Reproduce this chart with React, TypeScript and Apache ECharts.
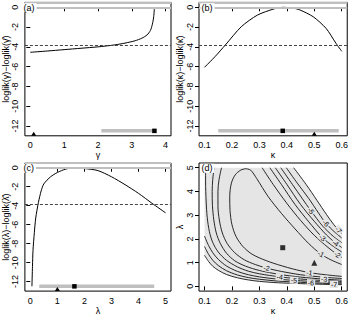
import React, { useEffect, useRef } from "react";
import * as echarts from "echarts";

// ---- (a) profile log-likelihood in gamma ----
const gammaGrid = [0, 0.5, 1, 1.5, 2, 2.5, 2.8, 3.1, 3.3, 3.45, 3.55, 3.61, 3.65, 3.67];
const gammaProfile = [-4.55, -4.42, -4.28, -4.14, -4.0, -3.8, -3.62, -3.38, -3.12, -2.8, -2.35, -1.7, -0.9, 0];
const gammaInterval = [2.1, 3.67];
const gammaHat = 3.67;
const gammaTrue = 0.1;

// ---- (b) profile log-likelihood in kappa ----
const kappaGrid = [0.1, 0.138, 0.176, 0.234, 0.293, 0.352, 0.385, 0.42, 0.448, 0.496, 0.543, 0.579, 0.6];
const kappaProfile = [-6.07, -5.0, -3.81, -1.96, -0.78, -0.17, 0, -0.06, -0.27, -0.95, -2.13, -3.64, -4.45];
const kappaInterval = [0.15, 0.589];
const kappaHat = 0.385;
const kappaTrue = 0.5;

// ---- (c) profile log-likelihood in lambda ----
const lambdaGrid = [0.06, 0.08, 0.1, 0.15, 0.2, 0.3, 0.4, 0.5, 0.75, 1.0, 1.3, 1.63, 2.0, 2.5, 3.0, 3.5, 4.0, 4.5, 5.0];
const lambdaProfile = [-12.5, -10.4, -8.7, -6.8, -5.3, -3.65, -2.45, -1.7, -0.95, -0.5, -0.15, 0, -0.08, -0.3, -0.95, -1.78, -2.7, -3.75, -4.75];
const lambdaInterval = [0.33, 4.58];
const lambdaHat = 1.63;
const lambdaTrue = 1.0;

const cutoff = -3.84;
const barLevel = -12.5;

// ---- (d) joint log-likelihood contours in (kappa, lambda) ----
const contourLevels = [-1, -2, -3, -4, -5, -6, -7];

// branches below/left of the ridge, level -1 .. -7
const lowerBranches: number[][][] = [
  [[0.25, 4.96], [0.232, 4.9], [0.212, 4.7], [0.198, 4.35], [0.192, 3.8], [0.193, 3.2], [0.2, 2.6], [0.215, 2.1], [0.24, 1.68], [0.27, 1.38], [0.3, 1.2], [0.35, 0.98], [0.42, 0.74], [0.482, 0.58], [0.54, 0.49], [0.6, 0.42]],
  [[0.162, 5.0], [0.153, 4.5], [0.149, 4.0], [0.149, 3.4], [0.154, 2.8], [0.165, 2.25], [0.183, 1.8], [0.21, 1.42], [0.245, 1.12], [0.285, 0.92], [0.326, 0.77], [0.38, 0.63], [0.45, 0.49], [0.53, 0.39], [0.6, 0.33]],
  [[0.135, 5.0], [0.13, 4.5], [0.128, 4.0], [0.129, 3.4], [0.134, 2.8], [0.143, 2.25], [0.158, 1.8], [0.18, 1.4], [0.21, 1.08], [0.25, 0.85], [0.3, 0.67], [0.37, 0.51], [0.45, 0.39], [0.53, 0.31], [0.6, 0.26]],
  [[0.104, 5.0], [0.104, 4.4], [0.106, 3.6], [0.11, 2.9], [0.118, 2.3], [0.13, 1.85], [0.15, 1.45], [0.18, 1.1], [0.22, 0.82], [0.26, 0.64], [0.3, 0.53], [0.374, 0.4], [0.45, 0.31], [0.53, 0.245], [0.6, 0.2]],
  [[0.1, 2.12], [0.115, 1.72], [0.13, 1.42], [0.15, 1.14], [0.18, 0.86], [0.22, 0.63], [0.26, 0.49], [0.3, 0.4], [0.37, 0.3], [0.45, 0.235], [0.52, 0.19], [0.6, 0.15]],
  [[0.1, 1.68], [0.115, 1.35], [0.13, 1.1], [0.15, 0.88], [0.18, 0.66], [0.22, 0.48], [0.26, 0.37], [0.3, 0.3], [0.37, 0.22], [0.45, 0.17], [0.52, 0.135], [0.6, 0.105]],
  [[0.1, 1.31], [0.115, 1.05], [0.13, 0.85], [0.15, 0.68], [0.18, 0.5], [0.22, 0.36], [0.26, 0.27], [0.3, 0.21], [0.37, 0.15], [0.45, 0.115], [0.52, 0.09], [0.6, 0.07]],
];

// branches above/right of the ridge, level -1 .. -7
const upperBranches: number[][][] = [
  [[0.25, 4.96], [0.268, 4.9], [0.29, 4.55], [0.331, 3.8], [0.38, 3.08], [0.43, 2.42], [0.48, 1.8], [0.524, 1.36], [0.56, 1.12], [0.6, 0.92]],
  [[0.31, 5.0], [0.35, 4.3], [0.4, 3.5], [0.45, 2.78], [0.5, 2.15], [0.55, 1.64], [0.584, 1.34], [0.6, 1.22]],
  [[0.338, 5.0], [0.38, 4.3], [0.43, 3.45], [0.48, 2.72], [0.53, 2.05], [0.57, 1.68], [0.6, 1.45]],
  [[0.358, 5.0], [0.4, 4.3], [0.45, 3.45], [0.5, 2.74], [0.545, 2.16], [0.578, 1.82], [0.6, 1.64]],
  [[0.378, 5.0], [0.42, 4.3], [0.455, 3.72], [0.488, 3.18], [0.53, 2.55], [0.57, 2.1], [0.6, 1.84]],
  [[0.398, 5.0], [0.44, 4.32], [0.48, 3.7], [0.515, 3.1], [0.542, 2.66], [0.575, 2.28], [0.6, 2.04]],
  [[0.425, 5.0], [0.47, 4.3], [0.51, 3.62], [0.545, 3.02], [0.57, 2.62], [0.59, 2.35], [0.6, 2.24]],
];

// kappa at which each branch carries its level label
const lowerLabelKappa = [0.482, 0.326, 0.536, 0.374, 0.426, 0.488, 0.572];
const upperLabelKappa = [0.524, 0.584, 0.53, 0.578, 0.488, 0.542, 0.588];

const kappaHat2 = 0.385;
const lambdaHat2 = 1.63;
const kappaTrue2 = 0.5;
const lambdaTrue2 = 1.0;

const FONT = "Liberation Sans, Arial, sans-serif";
const GRAY = "#bfbfbf";
const FILL = "#e5e5e5";

const grids = [
  { left: 21, top: 2.4, width: 150, height: 133.4 },
  { left: 199, top: 2.4, width: 150, height: 133.4 },
  { left: 21, top: 163, width: 150, height: 133 },
  { left: 199, top: 163, width: 150, height: 133 },
];

const textStyle = { fontFamily: FONT, fontSize: 9, color: "#000" };

function xAxis(gridIndex: number, min: number, max: number, ticks: number[], name: string, fmt: (v: number) => string) {
  return {
    type: "value",
    gridIndex,
    min,
    max,
    name,
    nameLocation: "middle",
    nameGap: 12,
    nameTextStyle: { ...textStyle },
    axisLine: { show: false },
    axisTick: { show: true, inside: false, length: 4, lineStyle: { color: "#000", width: 1 }, customValues: ticks },
    axisLabel: { show: true, margin: 5, ...textStyle, customValues: ticks, formatter: fmt },
    splitLine: { show: false },
  };
}

function yAxis(gridIndex: number, min: number, max: number, ticks: number[], name: string) {
  return {
    type: "value",
    gridIndex,
    min,
    max,
    name,
    nameLocation: "middle",
    nameGap: 11,
    nameRotate: 90,
    nameTextStyle: { ...textStyle },
    axisLine: { show: false },
    axisTick: { show: true, inside: false, length: 4, lineStyle: { color: "#000", width: 1 }, customValues: ticks },
    axisLabel: { show: true, margin: 5, rotate: 90, ...textStyle, customValues: ticks, formatter: (v: number) => String(v) },
    splitLine: { show: false },
  };
}

const profTicks = [0, -2, -4, -6, -8, -10, -12];

function profileSeries(idx: number, xs: number[], ys: number[], interval: number[], hat: number, truth: number) {
  return [
    {
      type: "line",
      xAxisIndex: idx,
      yAxisIndex: idx,
      data: [[interval[0], barLevel], [interval[1], barLevel]],
      showSymbol: false,
      lineStyle: { color: GRAY, width: 3.5 },
      silent: true,
      z: 2,
    },
    {
      type: "line",
      xAxisIndex: idx,
      yAxisIndex: idx,
      data: xs.map((x, i) => [x, ys[i]]),
      smooth: 0.25,
      showSymbol: false,
      lineStyle: { color: "#000", width: 1 },
      silent: true,
      z: 3,
      markLine: {
        silent: true,
        symbol: "none",
        label: { show: false },
        data: [
          { yAxis: 0, lineStyle: { color: GRAY, width: 2, type: "solid" } },
          { yAxis: 0.5, lineStyle: { color: GRAY, width: 2, type: "solid" } },
          { yAxis: cutoff, lineStyle: { color: "#444", width: 1, type: [3, 2] } },
        ],
      },
    },
    {
      type: "scatter",
      xAxisIndex: idx,
      yAxisIndex: idx,
      data: [[hat, barLevel]],
      symbol: "rect",
      symbolSize: 4.5,
      itemStyle: { color: "#000", opacity: 1, borderWidth: 0 },
      silent: true,
      z: 6,
    },
    {
      type: "scatter",
      xAxisIndex: idx,
      yAxisIndex: idx,
      data: [[truth, -13]],
      symbol: "triangle",
      symbolSize: [5, 4],
      symbolOffset: [0, -2],
      itemStyle: { color: "#000", opacity: 1 },
      silent: true,
      z: 6,
    },
  ];
}

// position and slope of a branch at a given kappa (searching its monotone tail)
function pointOn(branch: number[][], k: number) {
  for (let i = branch.length - 2; i >= 0; i--) {
    const [k0, l0] = branch[i];
    const [k1, l1] = branch[i + 1];
    if (k0 !== k1 && (k - k0) * (k - k1) <= 0) {
      const t = (k - k0) / (k1 - k0);
      return { l: l0 + t * (l1 - l0), slope: (l1 - l0) / (k1 - k0) };
    }
  }
  const last = branch[branch.length - 1];
  return { l: last[1], slope: 0 };
}

export default function App() {
  const ref = useRef<HTMLDivElement>(null);

  useEffect(() => {
    if (!ref.current) return;
    const chart = echarts.init(ref.current, undefined, { renderer: "svg" });

    const kMin = 0.08, kMax = 0.62, lMin = -0.2, lMax = 5.2;
    const pxPerK = grids[3].width / (kMax - kMin);
    const pxPerL = grids[3].height / (lMax - lMin);

    const outerUpper = upperBranches[upperBranches.length - 1];
    const outerLower = lowerBranches[lowerBranches.length - 1];
    const fillPolygon = [[0.1, 5.0], ...outerUpper, ...outerLower.slice().reverse()];

    const contourSeries: any[] = [];
    [lowerBranches, upperBranches].forEach((set) => {
      set.forEach((branch) => {
        contourSeries.push({
          type: "line",
          xAxisIndex: 3,
          yAxisIndex: 3,
          data: branch,
          smooth: 0.3,
          showSymbol: false,
          lineStyle: { color: "#111", width: 0.9 },
          silent: true,
          z: 3,
        });
      });
    });

    // level labels sitting on the contour, turned along its local direction
    const levelLabels: { k: number; l: number; ang: number; text: string }[] = [];
    const addLabels = (set: number[][][], ks: number[]) => {
      set.forEach((branch, i) => {
        const p = pointOn(branch, ks[i]);
        const ang = Math.atan((p.slope * pxPerL) / pxPerK);
        levelLabels.push({ k: ks[i], l: p.l, ang, text: String(contourLevels[i]) });
      });
    };
    addLabels(lowerBranches, lowerLabelKappa);
    addLabels(upperBranches, upperLabelKappa);

    const option: any = {
      animation: false,
      textStyle: { fontFamily: FONT },
      grid: grids.map((g) => ({ ...g, show: true, borderColor: "#000", borderWidth: 1, backgroundColor: "transparent" })),
      xAxis: [
        xAxis(0, -0.16, 4.16, [0, 1, 2, 3, 4], "γ", (v) => String(v)),
        xAxis(1, kMin, kMax, [0.1, 0.2, 0.3, 0.4, 0.5, 0.6], "κ", (v) => v.toFixed(1)),
        xAxis(2, -0.2, 5.2, [0, 1, 2, 3, 4, 5], "λ", (v) => String(v)),
        xAxis(3, kMin, kMax, [0.1, 0.2, 0.3, 0.4, 0.5, 0.6], "κ", (v) => v.toFixed(1)),
      ],
      yAxis: [
        yAxis(0, -13, 0.5, profTicks, "loglik(γ)−loglik(γ̂)"),
        yAxis(1, -13, 0.5, profTicks, "loglik(κ)−loglik(κ̂)"),
        yAxis(2, -13, 0.5, profTicks, "loglik(λ)−loglik(λ̂)"),
        yAxis(3, lMin, lMax, [0, 1, 2, 3, 4, 5], "λ"),
      ],
      series: [
        ...profileSeries(0, gammaGrid, gammaProfile, gammaInterval, gammaHat, gammaTrue),
        ...profileSeries(1, kappaGrid, kappaProfile, kappaInterval, kappaHat, kappaTrue),
        ...profileSeries(2, lambdaGrid, lambdaProfile, lambdaInterval, lambdaHat, lambdaTrue),
        {
          type: "custom",
          coordinateSystem: "cartesian2d",
          xAxisIndex: 3,
          yAxisIndex: 3,
          data: [[0.35, 2.5]],
          silent: true,
          z: 1,
          renderItem: (_params: any, api: any) => ({
            type: "polygon",
            shape: { points: fillPolygon.map((p) => api.coord(p)) },
            style: { fill: FILL, stroke: null },
          }),
        },
        ...contourSeries,
        {
          type: "custom",
          coordinateSystem: "cartesian2d",
          xAxisIndex: 3,
          yAxisIndex: 3,
          data: levelLabels.map((d) => [d.k, d.l]),
          silent: true,
          z: 4,
          renderItem: (params: any, api: any) => {
            const d = levelLabels[params.dataIndex];
            const [x, y] = api.coord([d.k, d.l]);
            return {
              type: "text",
              x,
              y,
              rotation: d.ang,
              style: {
                text: d.text,
                fill: "#000",
                font: `7px ${FONT}`,
                align: "center",
                verticalAlign: "middle",
                backgroundColor: FILL,
                padding: [0, 1],
              },
            };
          },
        },
        {
          type: "scatter",
          xAxisIndex: 3,
          yAxisIndex: 3,
          data: [[kappaHat2, lambdaHat2]],
          symbol: "rect",
          symbolSize: 5,
          itemStyle: { color: "#000" },
          silent: true,
          z: 5,
        },
        {
          type: "scatter",
          xAxisIndex: 3,
          yAxisIndex: 3,
          data: [[kappaTrue2, lambdaTrue2]],
          symbol: "triangle",
          symbolSize: 6,
          itemStyle: { color: "#000" },
          silent: true,
          z: 5,
        },
      ],
      graphic: ["(a)", "(b)", "(c)", "(d)"].map((t, i) => ({
        type: "text",
        z: 100,
        x: grids[i].left + 1.5,
        y: grids[i].top + 0.8,
        style: {
          text: t,
          font: `9px ${FONT}`,
          fill: "#000",
          backgroundColor: "#fff",
          padding: [0, 2, 0, 1],
        },
      })),
    };

    chart.setOption(option);
    return () => chart.dispose();
  }, []);

  return <div ref={ref} style={{ position: "absolute", left: 0, top: 0, width: 351, height: 316 }} />;
}
